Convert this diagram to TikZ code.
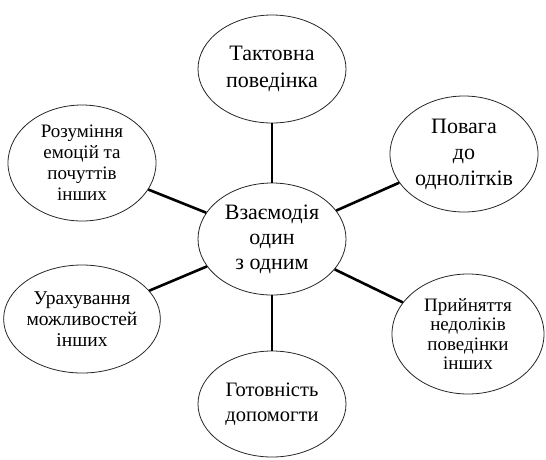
\documentclass[tikz,border=0pt]{standalone}
\usepackage{fontspec}
\setmainfont{Liberation Serif}
\usetikzlibrary{shapes.geometric}
\begin{document}
\begin{tikzpicture}[x=1pt,y=-1pt,
  bubble/.style={ellipse, draw=black!85, line width=0.8pt, inner sep=0pt, align=center, text=black},
  link/.style={line width=2.6pt, black}]
\useasboundingbox (0,0) rectangle (546,459);
\node[bubble, minimum width=148pt, minimum height=108pt, font=\rmfamily\fontsize{22}{27}\selectfont] (top) at (272,69) {Тактовна\\поведінка};
\node[bubble, minimum width=148pt, minimum height=116pt, font=\rmfamily\fontsize{19}{21}\selectfont] (lt) at (82,163) {Розуміння\\емоцій та\\почуттів\\інших};
\node[bubble, minimum width=148pt, minimum height=116pt, font=\rmfamily\fontsize{22}{26}\selectfont] (rt) at (464,154) {Повага\\до\\однолітків};
\node[bubble, minimum width=148pt, minimum height=112pt, font=\rmfamily\fontsize{22}{25}\selectfont] (c) at (272,239) {Взаємодія\\один\\з одним};
\node[bubble, minimum width=148pt, minimum height=108pt, font=\rmfamily\fontsize{19.5}{21}\selectfont] (lb) at (82,319) {Урахування\\можливостей\\інших};
\node[bubble, minimum width=152pt, minimum height=120pt, font=\rmfamily\fontsize{19}{19.5}\selectfont] (rb) at (468,334) {Прийняття\\недоліків\\поведінки\\інших};
\node[bubble, minimum width=148pt, minimum height=106pt, font=\rmfamily\fontsize{20.5}{25}\selectfont] (bot) at (272,404) {Готовність\\допомогти};
\draw[link] (top) -- (c);
\draw[link] (lt) -- (c);
\draw[link] (rt) -- (c);
\draw[link] (lb) -- (c);
\draw[link] (rb) -- (c);
\draw[link] (bot) -- (c);
\end{tikzpicture}
\end{document}
